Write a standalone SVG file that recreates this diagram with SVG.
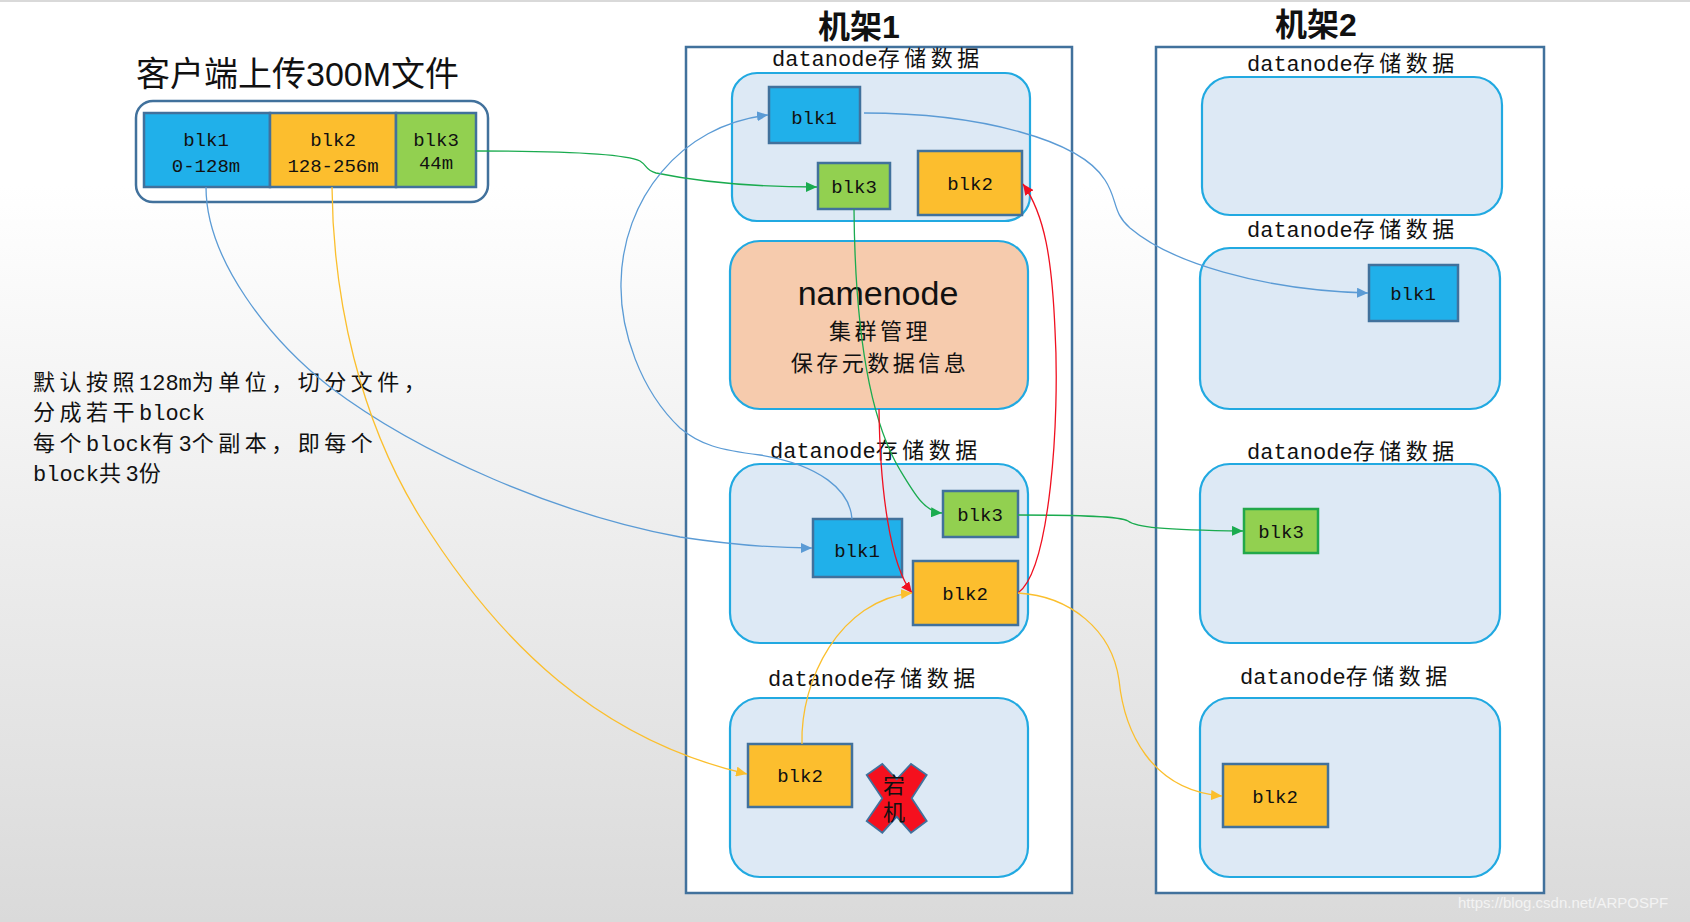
<svg xmlns="http://www.w3.org/2000/svg" width="1690" height="922" viewBox="0 0 1690 922">
<defs>
<linearGradient id="bg" x1="0" y1="0" x2="0" y2="1">
<stop offset="0" stop-color="#ffffff"/>
<stop offset="0.2" stop-color="#ffffff"/>
<stop offset="1" stop-color="#dadada"/>
</linearGradient>
<marker id="aB" markerUnits="userSpaceOnUse" markerWidth="12" markerHeight="10" refX="11" refY="5" orient="auto"><path d="M0,0 L11,5 L0,10 z" fill="#5b9bd5"/></marker>
<marker id="aG" markerUnits="userSpaceOnUse" markerWidth="12" markerHeight="10" refX="11" refY="5" orient="auto"><path d="M0,0 L11,5 L0,10 z" fill="#1aab4f"/></marker>
<marker id="aO" markerUnits="userSpaceOnUse" markerWidth="12" markerHeight="10" refX="11" refY="5" orient="auto"><path d="M0,0 L11,5 L0,10 z" fill="#fbbf2d"/></marker>
<marker id="aR" markerUnits="userSpaceOnUse" markerWidth="12" markerHeight="10" refX="11" refY="5" orient="auto"><path d="M0,0 L11,5 L0,10 z" fill="#f01020"/></marker>
<style>
.rack{fill:#ffffff;stroke:#41719c;stroke-width:2.5}
.dn{fill:#dde9f5;stroke:#21a9e1;stroke-width:2.2}
.nn{fill:#f6cbad;stroke:#21a9e1;stroke-width:2.2}
.b1{fill:#20b0ea;stroke:#41719c;stroke-width:2.5}
.b2{fill:#fcbe2e;stroke:#41719c;stroke-width:2.5}
.b3{fill:#92d050;stroke:#41719c;stroke-width:2.5}
.lbl{font-family:"Liberation Mono","Noto Sans CJK SC",monospace;font-size:22px;fill:#111}
.cj{letter-spacing:4.5px}
.blk{font-family:"Liberation Mono","Noto Sans CJK SC",monospace;font-size:19px;fill:#111;text-anchor:middle}
.ttl{font-family:"Liberation Sans","Noto Sans CJK SC",sans-serif;fill:#111}
.c{fill:none;stroke-width:1.3}
.cb{stroke:#5b9bd5}
.cg{stroke:#1aab4f}
.co{stroke:#fbbf2d}
.cr{stroke:#f01020}
</style>
</defs>
<rect x="0" y="0" width="1690" height="922" fill="url(#bg)"/>
<rect x="0" y="0" width="1690" height="2" fill="#d9d9d9"/>

<text class="ttl" x="136" y="86" font-size="34">客户端上传300M文件</text>
<text class="ttl" x="859" y="38" font-size="32" font-weight="bold" text-anchor="middle">机架1</text>
<text class="ttl" x="1316" y="36" font-size="32" font-weight="bold" text-anchor="middle">机架2</text>

<g id="file">
<rect x="136" y="101" width="352" height="101" rx="17" fill="#ffffff" stroke="#41719c" stroke-width="2.5"/>
<rect class="b1" x="144" y="113" width="126" height="74"/>
<rect class="b2" x="270" y="113" width="126" height="74"/>
<rect class="b3" x="396" y="113" width="80" height="74"/>
<text class="blk" x="206" y="146">blk1</text>
<text class="blk" x="206" y="172">0-128m</text>
<text class="blk" x="333" y="146">blk2</text>
<text class="blk" x="333" y="172">128-256m</text>
<text class="blk" x="436" y="146">blk3</text>
<text class="blk" x="436" y="169" font-size="15">44m</text>
</g>

<g id="desc">
<text class="lbl" x="33" y="390"><tspan class="cj">默认按照</tspan>128m<tspan class="cj">为单位，切分文件，</tspan></text>
<text class="lbl" x="33" y="420"><tspan class="cj">分成若干</tspan>block</text>
<text class="lbl" x="33" y="451"><tspan class="cj">每个</tspan>block<tspan class="cj">有</tspan>3<tspan class="cj">个副本，即每个</tspan></text>
<text class="lbl" x="33" y="481">block<tspan class="cj">共</tspan>3<tspan class="cj">份</tspan></text>
</g>

<g id="rack1">
<rect class="rack" x="686" y="47" width="386" height="846"/>
</g>
<g id="rack2">
<rect class="rack" x="1156" y="47" width="388" height="846"/>
</g>

<g id="r1dn1">
<text class="lbl" x="772" y="66">datanode<tspan class="cj">存储数据</tspan></text>
<rect class="dn" x="732" y="73" width="298" height="148" rx="25"/>
<rect class="b1" x="769" y="87" width="91" height="56"/>
<text class="blk" x="814" y="124">blk1</text>
<rect class="b3" x="818" y="163" width="72" height="46"/>
<text class="blk" x="854" y="193">blk3</text>
<rect class="b2" x="918" y="151" width="104" height="64"/>
<text class="blk" x="970" y="190">blk2</text>
</g>

<g id="namenode">
<rect class="nn" x="730" y="241" width="298" height="168" rx="30"/>
<text class="ttl" x="878" y="305" font-size="34" text-anchor="middle">namenode</text>
<text class="lbl" x="880" y="339" text-anchor="middle" letter-spacing="3.5">集群管理</text>
<text class="lbl" x="880" y="371" text-anchor="middle" letter-spacing="3.5">保存元数据信息</text>
</g>

<g id="r1dn2">
<text class="lbl" x="770" y="458">datanode<tspan class="cj">存储数据</tspan></text>
<rect class="dn" x="730" y="464" width="298" height="179" rx="30"/>
<rect class="b1" x="813" y="519" width="89" height="58"/>
<text class="blk" x="857" y="557">blk1</text>
<rect class="b3" x="943" y="491" width="75" height="46"/>
<text class="blk" x="980" y="521">blk3</text>
<rect class="b2" x="913" y="561" width="105" height="64"/>
<text class="blk" x="965" y="600">blk2</text>
</g>

<g id="r1dn3">
<text class="lbl" x="768" y="686">datanode<tspan class="cj">存储数据</tspan></text>
<rect class="dn" x="730" y="698" width="298" height="179" rx="30"/>
<rect class="b2" x="748" y="744" width="104" height="63"/>
<text class="blk" x="800" y="782">blk2</text>
</g>

<g id="down">
<polygon points="866.7,775 882.3,764 896.7,779.3 911,764 926.7,775 911.7,798.3 926.7,821 911,832.7 896.7,816.7 882.3,832.7 866.7,821 882.3,798.3" fill="#f5101e" stroke="#41719c" stroke-width="1.8"/>
<text class="ttl" x="894" y="793" font-size="22" text-anchor="middle">宕</text>
<text class="ttl" x="894" y="820" font-size="22" text-anchor="middle">机</text>
</g>

<g id="r2dn1">
<text class="lbl" x="1247" y="71">datanode<tspan class="cj">存储数据</tspan></text>
<rect class="dn" x="1202" y="77" width="300" height="138" rx="28"/>
</g>

<g id="r2dn2">
<text class="lbl" x="1247" y="237">datanode<tspan class="cj">存储数据</tspan></text>
<rect class="dn" x="1200" y="248" width="300" height="161" rx="30"/>
<rect class="b1" x="1369" y="265" width="89" height="56"/>
<text class="blk" x="1413" y="300">blk1</text>
</g>

<g id="r2dn3">
<text class="lbl" x="1247" y="459">datanode<tspan class="cj">存储数据</tspan></text>
<rect class="dn" x="1200" y="464" width="300" height="179" rx="30"/>
<rect class="b3" x="1244" y="509" width="74" height="44" style="stroke:#22a84a"/>
<text class="blk" x="1281" y="538">blk3</text>
</g>

<g id="r2dn4">
<text class="lbl" x="1240" y="684">datanode<tspan class="cj">存储数据</tspan></text>
<rect class="dn" x="1200" y="698" width="300" height="179" rx="30"/>
<rect class="b2" x="1223" y="764" width="105" height="63"/>
<text class="blk" x="1275" y="803">blk2</text>
</g>

<g id="connectors">
<path class="c cg" d="M476,151 C560,151 625,154 640,161 C648,166 645,170 656,173 C700,182 760,187 817,187" marker-end="url(#aG)"/>
<path class="c cb" d="M206,187 C206,260 270,340 330,387 C420,455 560,515 680,537 C740,546 780,548 812,548" marker-end="url(#aB)"/>
<path class="c co" d="M332,187 C333,300 360,420 420,517 C500,645 600,740 747,774" marker-end="url(#aO)"/>
<path class="c cb" d="M852,519 C850,490 820,465 760,455 C720,450 700,445 680,428 C640,390 620,330 621,283 C622,200 680,125 768,115" marker-end="url(#aB)"/>
<path class="c cb" d="M864,113 C980,113 1080,140 1105,180 C1118,200 1112,212 1130,228 C1170,262 1260,290 1368,293" marker-end="url(#aB)"/>
<path class="c cg" d="M854,209 C855,330 870,420 900,470 C915,495 925,512 942,513" marker-end="url(#aG)"/>
<path class="c cg" d="M1018,515 C1080,515 1120,516 1128,521 C1136,527 1160,530 1243,531" marker-end="url(#aG)"/>
<path class="c cr" d="M879,409 C880,490 890,565 912,593" marker-end="url(#aR)"/>
<path class="c cr" d="M1018,593 C1050,570 1060,420 1055,330 C1052,260 1045,215 1023,184" marker-end="url(#aR)"/>
<path class="c co" d="M1018,593 C1070,596 1112,630 1119,680 C1124,730 1150,790 1222,796" marker-end="url(#aO)"/>
<path class="c co" d="M802,744 C800,680 840,600 912,593" marker-end="url(#aO)"/>
</g>

<text x="1458" y="908" font-family="Liberation Sans, sans-serif" font-size="15" fill="#f3f3f3">https://blog.csdn.net/ARPOSPF</text>
</svg>
